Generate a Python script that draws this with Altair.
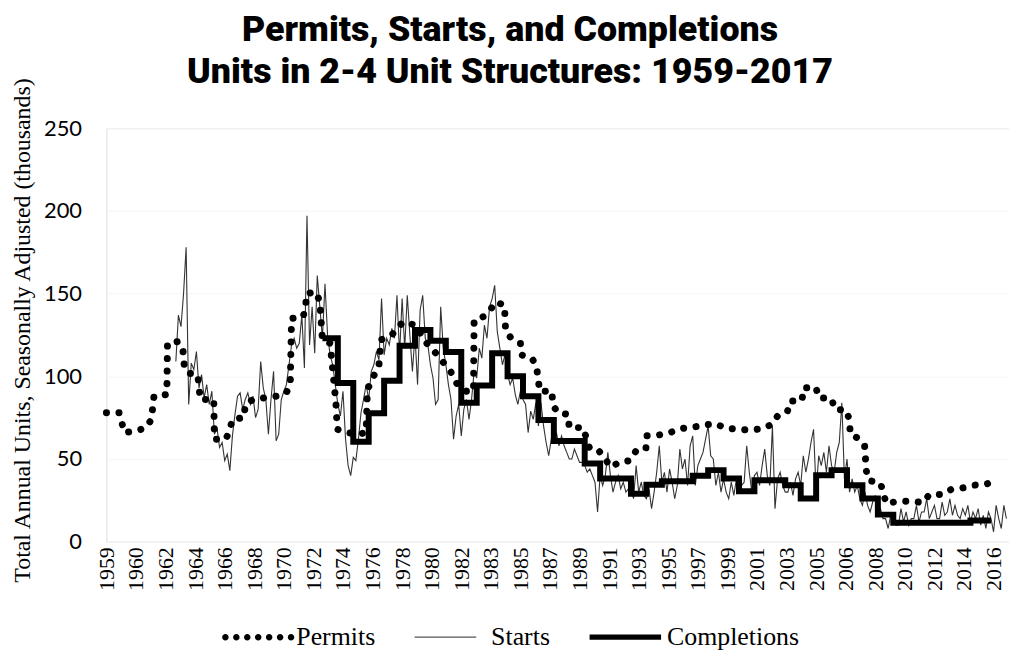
import altair as alt
import pandas as pd

# ---------------- data ----------------
# month index: 0 = January 1959
permits_month = [0, 10, 14, 23, 31, 35, 37, 47, 47.5, 56, 59.5, 60.5, 63, 71, 73, 83.5, 84, 93, 96, 98,
                 107, 108, 114, 123, 132, 140, 143, 144, 153, 155, 155.5, 163, 166, 168, 174, 178.5, 179.5,
                 187, 196, 202, 203, 212, 213.5, 222, 226, 231, 240, 250, 253, 262, 267, 273, 280, 285.5,
                 286, 293, 298.5, 302.6, 309.6, 310.5, 315, 322, 322.5, 331, 334.6, 337, 346.6, 347, 351,
                 359, 360, 370.7, 376, 383, 392.6, 398.5, 407, 412, 419.6, 420, 429.4, 438.4, 446, 456,
                 465, 474, 481.5, 491, 501, 510.6, 517.5, 522, 529.6, 531.7, 541, 542.2, 551.8, 554, 564,
                 566.5, 575.7, 578, 578.5, 585, 589.7, 591, 593, 602, 606.6, 615.6, 625.4, 635.2, 640,
                 650, 657, 666.6, 675, 684, 692.5]
permits_value = [78, 78, 66, 67, 69, 74, 88, 89, 120, 121, 116, 107, 102, 101, 86, 86, 62, 62, 68, 74,
                 75, 83, 86, 87, 88, 90, 96, 135, 136, 142, 150, 151, 145, 122, 120, 84, 68,
                 66, 65, 66, 92, 107, 122, 125, 129, 133, 131, 119, 117, 108.5, 104, 95, 91, 91,
                 134, 136, 140, 145, 143, 127, 123, 120, 113, 111, 105.6, 91, 91, 83, 78,
                 77, 69, 69, 56, 55, 45, 48, 49, 55, 56, 64, 64.5, 66, 68.4, 69.2,
                 70.6, 71.4, 68.6, 68, 67.5, 68.4, 71, 76, 78.5, 85, 85.4, 93, 93.4, 87, 86.6,
                 80, 79.5, 73, 65, 62.5, 58, 43, 37, 35.6, 23, 24.5, 24.5, 23.7, 28.5,
                 28.5, 31.6, 32.6, 34.2, 34.8, 36.8]

completions_year = list(range(1973, 2017))
completions_value = [123, 96, 60.5, 77.7, 97.3, 118.5, 128, 121.5, 114.7, 84,
                     94.5, 114, 100, 88, 73.6, 60.9, 60.9, 47.3, 38.2, 38.2,
                     29, 34.5, 36.6, 36.6, 39.9, 43.3, 38.2, 30.5, 37.2, 37.2,
                     34.2, 26.1, 40.2, 43.3, 34.2, 26.1, 16.4, 11.5, 11.5, 11.5,
                     11.5, 11.5, 12.9, 12.9]
completions_last_month = 688

starts_first_month = 54   # July 1963, every second month after it
starts_value = [109, 137, 130, 150, 178, 83, 108, 104, 115, 93, 101, 87, 95, 83, 91, 65, 69, 57, 60, 49,
                53, 43, 64, 77, 88, 90, 80, 86, 90, 83, 88, 75, 80, 109, 93, 86, 65, 86, 103, 61,
                65, 86, 91, 95, 107, 119, 123, 117, 120, 137, 105, 197, 119, 142, 114, 161, 142, 123, 156, 125,
                113, 107, 95, 83, 76, 91, 62, 46, 40, 51, 49, 62, 78, 86, 95, 86, 103, 107, 115, 110,
                147, 113, 123, 119, 129, 123, 149, 113, 147, 117, 149, 125, 103, 125, 95, 140, 149, 123, 119, 107,
                99, 83, 86, 142, 117, 107, 95, 86, 62, 76, 83, 64, 80, 86, 74, 86, 103, 99, 117, 111,
                131, 123, 142, 147, 155, 127, 117, 107, 113, 101, 95, 99, 89, 83, 91, 86, 83, 66, 79, 74,
                84, 70, 84, 70, 60, 52, 62, 60, 66, 58, 64, 58, 54, 50, 50, 56, 52, 48, 48, 46,
                42, 44, 40, 36, 18, 40, 34, 40, 54, 40, 30, 36, 40, 32, 36, 30, 32, 32, 26, 46,
                30, 36, 28, 26, 32, 20, 30, 42, 58, 36, 42, 30, 44, 36, 26, 34, 56, 44, 50, 34,
                58, 64, 34, 46, 50, 54, 62, 70, 52, 50, 34, 42, 30, 38, 30, 26, 36, 28, 38, 30,
                34, 36, 58, 42, 30, 40, 42, 34, 46, 56, 40, 34, 70, 20, 38, 42, 34, 30, 30, 36,
                28, 38, 42, 34, 52, 42, 50, 60, 68, 30, 52, 46, 54, 42, 58, 46, 42, 54, 60, 84,
                38, 50, 30, 38, 30, 34, 26, 22, 30, 22, 18, 24, 28, 16, 20, 14, 14, 8, 16, 12,
                10, 10, 20, 12, 18, 10, 14, 14, 22, 12, 18, 18, 26, 14, 18, 22, 14, 14, 24, 16,
                18, 26, 16, 22, 16, 14, 20, 16, 22, 12, 18, 14, 20, 10, 16, 8, 18, 14, 6, 22,
                14, 8, 22, 14]

x_label_months = list(range(0, 691, 23))
y_tick_values = [0, 50, 100, 150, 200, 250]
series_names = ["Permits", "Starts", "Completions"]

# ---------------- tables ----------------
permits_df = pd.DataFrame({"m": permits_month, "v": permits_value})
starts_df = pd.DataFrame({"m": [starts_first_month + 2 * i for i in range(len(starts_value))],
                          "v": starts_value})
comp_df = pd.DataFrame({
    "m": [12 * (y - 1959) for y in completions_year] + [completions_last_month],
    "v": completions_value + [completions_value[-1]],
})
legend_df = pd.DataFrame({"s": series_names, "m": [0, 0, 0], "v": [0, 0, 0]})

# ---------------- legend symbols (unit box -1..1) ----------------
def circle(cx, r):
    return (f"M{cx - r:.3f},0A{r:.3f},{r:.3f} 0 1,0 {cx + r:.3f},0"
            f"A{r:.3f},{r:.3f} 0 1,0 {cx - r:.3f},0Z")

dot_centers = [-0.816 + 0.355 * k for k in range(7)]
permits_symbol = "".join(circle(c, 0.106) for c in dot_centers)
starts_symbol = "M-1,-0.02L1,-0.02L1,0.02L-1,0.02Z"
completions_symbol = "M-1.03,-0.085L1.29,-0.085L1.29,0.085L-1.03,0.085Z"

x_enc = alt.X("m:Q", scale=alt.Scale(domain=[0, 702], nice=False, zero=False),
              axis=alt.Axis(values=x_label_months, labelExpr="'' + floor(1959 + datum.value / 12)",
                            labelAngle=-90, labelFont="Liberation Serif", labelFontSize=22,
                            labelColor="black", labelPadding=5, domain=False, ticks=False,
                            grid=False, labelOverlap=False),
              title=None)
y_enc = alt.Y("v:Q", scale=alt.Scale(domain=[0, 250], nice=False),
              axis=alt.Axis(values=y_tick_values, labelFont="Lato", labelFontSize=22,
                            labelColor="black", labelPadding=25, domain=False, ticks=False,
                            grid=True, gridColor="#f5f5f5",
                            titleFont="Liberation Serif", titleFontSize=24,
                            titleFontWeight="normal", titleColor="black", titlePadding=9,
                            titleY=203),
              title="Total Annual Units, Seasonally Adjusted (thousands)")

starts_line = alt.Chart(starts_df).mark_line(color="#333333", strokeWidth=1.1).encode(x=x_enc, y=y_enc)
permits_line = alt.Chart(permits_df).mark_line(
    color="black", strokeWidth=7, strokeCap="round", strokeDash=[0.1, 12.5]
).encode(x=x_enc, y=y_enc)
comp_line = alt.Chart(comp_df).mark_line(
    color="black", strokeWidth=6, interpolate="step-after", strokeJoin="miter"
).encode(x=x_enc, y=y_enc)

leg = alt.Legend(title=None, orient="none", legendX=114, legendY=481, direction="horizontal",
                 symbolSize=3844, symbolStrokeWidth=0, labelFont="Liberation Serif",
                 labelFontSize=26, labelColor="black", labelOffset=15, columnPadding=39)
legend_layer = alt.Chart(legend_df).transform_filter("false").mark_point(
    filled=True, size=3844, opacity=1
).encode(
    x=x_enc, y=y_enc,
    shape=alt.Shape("s:N", scale=alt.Scale(domain=series_names,
                                           range=[permits_symbol, starts_symbol, completions_symbol]),
                    legend=leg),
    color=alt.Color("s:N", scale=alt.Scale(domain=series_names, range=["black", "#555555", "black"]),
                    legend=leg),
)

chart = alt.layer(starts_line, permits_line, comp_line, legend_layer).properties(
    width=908, height=416,
    title=alt.TitleParams(
        text=["Permits, Starts, and Completions", "Units in 2-4 Unit Structures: 1959-2017"],
        font="Roboto", fontSize=36, fontWeight=900, lineHeight=43,
        color="black", anchor="middle", dx=-48, dy=49, offset=34),
    autosize=alt.AutoSizeParams(type="none"),
    padding={"left": 99, "top": 119, "right": 0, "bottom": 111},
).configure_view(stroke=None).configure(background="white")

chart.save("out.html", embed_options={"renderer": "svg", "actions": False})
